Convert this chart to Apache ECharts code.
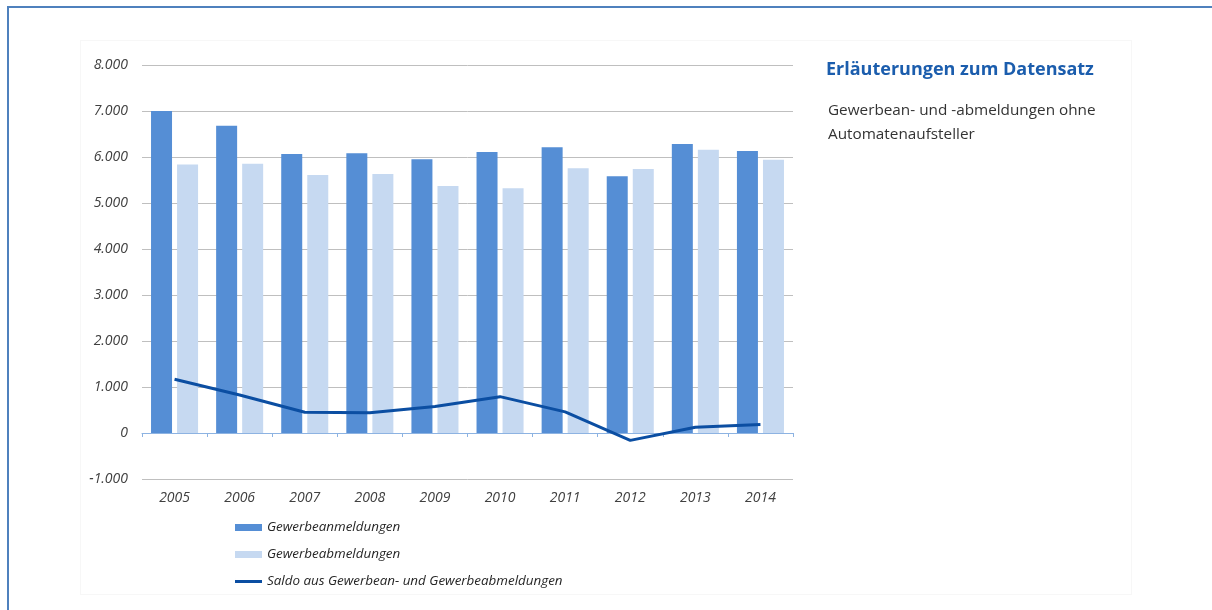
<!DOCTYPE html>
<html>
<head>
<meta charset="utf-8">
<script src="https://cdn.jsdelivr.net/npm/echarts@6/dist/echarts.min.js"></script>
<style>
html,body{margin:0;padding:0;background:#fff;}
#frame{position:absolute;left:7px;top:6px;width:1205px;height:604px;border-top:2px solid #4F81BD;border-left:2px solid #4F81BD;box-sizing:border-box;pointer-events:none;}
#panel{position:absolute;left:80px;top:40px;width:1052px;height:555px;border:1px solid #f7f7f7;box-sizing:border-box;pointer-events:none;}
#chart{position:absolute;left:0;top:0;width:1212px;height:610px;}
</style>
</head>
<body>
<div id="chart"></div>
<div id="panel"></div>
<div id="frame"></div>
<script>
const years = ['2005','2006','2007','2008','2009','2010','2011','2012','2013','2014'];
const anmeldungen = [7000, 6680, 6065, 6080, 5950, 6110, 6210, 5580, 6285, 6130];
const abmeldungen = [5835, 5855, 5610, 5630, 5370, 5320, 5755, 5740, 6160, 5940];
const saldo = [1170, 825, 450, 440, 575, 790, 460, -160, 125, 185];
const seriesNames = ['Gewerbeanmeldungen', 'Gewerbeabmeldungen', 'Saldo aus Gewerbean- und Gewerbeabmeldungen'];
const yTicks = {min: -1000, max: 8000, interval: 1000};
const infoTitle = 'Erläuterungen zum Datensatz';
const infoLines = ['Gewerbean- und -abmeldungen ohne', 'Automatenaufsteller'];

const FONT = '"Open Sans", "Noto Sans", sans-serif';
function fmt(v){
  const s = Math.abs(v).toString().replace(/\B(?=(\d{3})+(?!\d))/g, '.');
  return (v < 0 ? '-' : '') + s;
}
const chart = echarts.init(document.getElementById('chart'), null, {renderer:'canvas'});
chart.setOption({
  backgroundColor: 'transparent',
  animation: false,
  grid: {left: 142, right: 419, top: 65, bottom: 131, containLabel: false},
  xAxis: {
    type: 'category',
    data: years,
    boundaryGap: true,
    axisLine: {onZero: true, lineStyle: {color: '#8DB3E2', width: 1}},
    axisTick: {show: true, length: 4, lineStyle: {color: '#8DB3E2'}},
    axisLabel: {margin: 12, fontFamily: FONT, fontStyle: 'italic', fontSize: 14, color: '#404040'},
    splitLine: {show: false}
  },
  yAxis: {
    type: 'value',
    min: yTicks.min, max: yTicks.max, interval: yTicks.interval,
    axisLine: {show: false},
    axisTick: {show: false},
    axisLabel: {margin: 14, fontFamily: FONT, fontStyle: 'italic', fontSize: 14, color: '#404040', formatter: fmt},
    splitLine: {lineStyle: {color: '#BFBFBF', width: 1}}
  },
  legend: {
    orient: 'vertical',
    left: 235, top: 521,
    padding: 0,
    itemWidth: 27, itemHeight: 7, itemGap: 14,
    textStyle: {fontFamily: FONT, fontStyle: 'italic', fontSize: 13.4, color: '#262626', padding: [0,0,0,0]},
    data: [
      {name: seriesNames[0], icon: 'rect'},
      {name: seriesNames[1], icon: 'rect'},
      {name: seriesNames[2], icon: 'path://M0,2 h27 v3 h-27 z M0,0 h0.01 v7 h-0.01 z'}
    ]
  },
  graphic: [
    {type: 'text', left: 826, top: 61, style: {text: infoTitle, fontFamily: FONT, fontWeight: 'bold', fontSize: 18, fill: '#1B5DAD'}},
    {type: 'text', left: 828, top: 99, style: {text: infoLines.join('\n'), lineHeight: 24, fontFamily: FONT, fontSize: 15.3, fill: '#333333'}}
  ],
  series: [
    {name: seriesNames[0], type: 'bar', data: anmeldungen, barWidth: 21, barGap: '24%', itemStyle: {color: '#558ED5'}},
    {name: seriesNames[1], type: 'bar', data: abmeldungen, barWidth: 21, itemStyle: {color: '#C6D9F1'}},
    {name: seriesNames[2], type: 'line', data: saldo, symbol: 'none', lineStyle: {color: '#0B4EA2', width: 3}, itemStyle: {color: '#0B4EA2'}, z: 5}
  ]
});
</script>
</body>
</html>
